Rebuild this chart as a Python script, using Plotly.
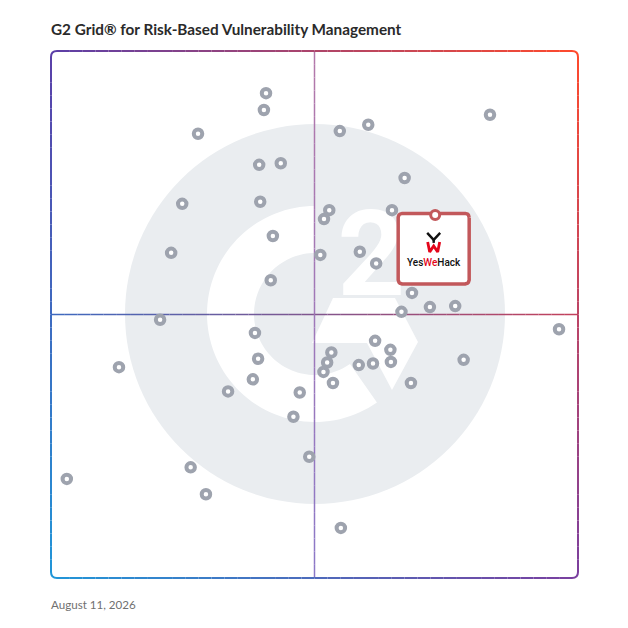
import numpy as np
import plotly.graph_objects as go

# G2 Grid for Risk-Based Vulnerability Management
# x = satisfaction, y = market presence (0-100)
satisfaction = [40.8, 40.4, 27.9, 54.8, 60.2, 83.3, 39.5, 43.6, 67.1, 24.9,
                39.7, 52.8, 51.8, 64.7, 42.1, 22.8, 51.1, 58.6, 61.7, 41.7,
                68.5, 71.9, 76.7, 66.5, 20.7, 96.4, 38.7, 61.5, 53.2, 64.4,
                39.3, 52.4, 51.7, 58.4, 61.1, 64.5, 78.3, 12.9, 38.3, 53.5,
                68.3, 33.6, 47.2, 46.0, 49.0, 26.5, 29.4, 3.0, 55.0]
market_presence = [92.0, 88.8, 84.3, 84.8, 86.0, 87.9, 78.4, 78.7, 75.9, 71.0,
                   71.4, 69.8, 68.1, 69.8, 64.9, 61.7, 61.3, 61.9, 59.7, 56.5,
                   54.1, 51.4, 51.6, 50.5, 49.0, 47.2, 46.5, 45.0, 42.8, 43.3,
                   41.6, 40.9, 39.1, 40.4, 40.7, 41.0, 41.4, 40.0, 37.7, 37.0,
                   37.0, 35.4, 35.2, 30.6, 23.0, 21.0, 15.9, 18.8, 9.5]

highlight_name = "YesWeHack"
highlight_x = 72.9
highlight_y = 68.9

title_text = "G2 Grid® for Risk-Based Vulnerability Management"
date_text = "August 11, 2026"

W = 628
PLOT = 527  # plot area in px
L, T = 51, 51   # where the plot area should land on the page
PAGE_PAD = 8    # default body margin of the html page
U = PLOT / 100.0  # px per data unit

# corner colours of the grid border (bilinear gradient)
TL = np.array([91, 63, 168])
TR = np.array([255, 74, 44])
BL = np.array([33, 150, 216])
BR = np.array([122, 63, 159])


def grad(u, v):
    top = TL * (1 - u) + TR * u
    bot = BL * (1 - u) + BR * u
    c = bot * (1 - v) + top * v
    return "rgb(%d,%d,%d)" % tuple(int(round(k)) for k in c)


def pp(x, y):
    # pixel -> paper
    return (x - L) / PLOT, (T + PLOT - y) / PLOT


shapes = []

# background G2 logo
cx, cy = pp(315, 314)
R = 190 / PLOT
shapes.append(dict(type="circle", xref="paper", yref="paper", layer="below",
                   x0=cx - R, x1=cx + R, y0=cy - R, y1=cy + R,
                   fillcolor="#eaedf0", line=dict(width=0)))

r_out, r_in = 108 / PLOT, 61 / PLOT
ang = np.radians(np.linspace(90, 305, 80))
pts = [(cx + r_out * np.cos(a), cy + r_out * np.sin(a)) for a in ang]
pts += [(cx + r_in * np.cos(a), cy + r_in * np.sin(a)) for a in ang[::-1]]
path = "M " + " L ".join("%.5f,%.5f" % p for p in pts) + " Z"
shapes.append(dict(type="path", xref="paper", yref="paper", layer="below",
                   path=path, fillcolor="white", line=dict(width=0)))

chev = [pp(333, 298), pp(395, 298), pp(418, 342), pp(392, 390), pp(367, 343), pp(312, 343)]
path = "M " + " L ".join("%.5f,%.5f" % p for p in chev) + " Z"
shapes.append(dict(type="path", xref="paper", yref="paper", layer="below",
                   path=path, fillcolor="white", line=dict(width=0)))

# quadrant lines
n = 40
for i in range(n):
    a, b = i / n, (i + 1) / n
    m = (a + b) / 2
    hc = np.array([62, 106, 192]) * (1 - m) + np.array([196, 66, 92]) * m
    shapes.append(dict(type="line", xref="paper", yref="paper", layer="below",
                       x0=a, x1=b, y0=0.5, y1=0.5,
                       line=dict(color="rgb(%d,%d,%d)" % tuple(hc.astype(int)), width=1.5)))
    vc = np.array([180, 120, 170]) * (1 - m) + np.array([140, 120, 200]) * m
    shapes.append(dict(type="line", xref="paper", yref="paper", layer="below",
                       x0=0.5, x1=0.5, y0=1 - a, y1=1 - b,
                       line=dict(color="rgb(%d,%d,%d)" % tuple(vc.astype(int)), width=1.5)))

# border with gradient and rounded corners
rc = 6 / PLOT
bw = 2
for i in range(n):
    a = rc + (1 - 2 * rc) * i / n
    b = rc + (1 - 2 * rc) * (i + 1) / n
    m = (a + b) / 2
    for (x0, y0, x1, y1, u, v) in [(a, 1, b, 1, m, 1), (a, 0, b, 0, m, 0),
                                   (0, a, 0, b, 0, m), (1, a, 1, b, 1, m)]:
        shapes.append(dict(type="line", xref="paper", yref="paper", layer="below",
                           x0=x0, y0=y0, x1=x1, y1=y1,
                           line=dict(color=grad(u, v), width=bw)))
for (sx, sy, qx, qy, ex, ey, u, v) in [(0, 1 - rc, 0, 1, rc, 1, 0, 1),
                                       (1 - rc, 1, 1, 1, 1, 1 - rc, 1, 1),
                                       (1, rc, 1, 0, 1 - rc, 0, 1, 0),
                                       (rc, 0, 0, 0, 0, rc, 0, 0)]:
    shapes.append(dict(type="path", xref="paper", yref="paper", layer="below",
                       path="M %.5f,%.5f Q %.5f,%.5f %.5f,%.5f" % (sx, sy, qx, qy, ex, ey),
                       line=dict(color=grad(u, v), width=bw)))

fig = go.Figure()

# the "2" of the logo, drawn under the markers
fig.add_trace(go.Scatter(x=[60.8], y=[59.3], mode="text", text=["2"],
                         textfont=dict(family="Roboto", size=118, color="white", weight="bold"),
                         hoverinfo="skip", showlegend=False))

fig.add_trace(go.Scatter(x=satisfaction, y=market_presence, mode="markers",
                         marker=dict(size=8.5, color="white",
                                     line=dict(color="#9ea3ae", width=4)),
                         cliponaxis=False, hoverinfo="skip", showlegend=False))


# highlight box around the product
def rounded_box(x0, x1, y0, y1, r):
    xs, ys = [], []
    for (ccx, ccy, a0) in [(x1 - r, y1 - r, 0), (x0 + r, y1 - r, 90),
                           (x0 + r, y0 + r, 180), (x1 - r, y0 + r, 270)]:
        for a in np.radians(np.linspace(a0, a0 + 90, 6)):
            xs.append(ccx + r * np.cos(a))
            ys.append(ccy + r * np.sin(a))
    xs.append(xs[0])
    ys.append(ys[0])
    return xs, ys


bx, by = rounded_box(highlight_x - 37 / U, highlight_x + 34 / U,
                     highlight_y - 69 / U, highlight_y + 1.5 / U, 4 / U)
fig.add_trace(go.Scatter(x=bx, y=by, mode="lines", fill="toself", fillcolor="white",
                         line=dict(color="#c2585b", width=3.5),
                         hoverinfo="skip", showlegend=False))


# YesWeHack mark
def off(dx, dy):
    return highlight_x + dx / U, highlight_y - dy / U


vx, vy = zip(*[off(-8, 18), off(-1.5, 25), off(5, 18)])
fig.add_trace(go.Scatter(x=vx, y=vy, mode="lines", line=dict(color="#111111", width=2.4),
                         hoverinfo="skip", showlegend=False))
vx, vy = zip(*[off(-1.5, 25), off(-1.5, 28)])
fig.add_trace(go.Scatter(x=vx, y=vy, mode="lines", line=dict(color="#111111", width=2.4),
                         hoverinfo="skip", showlegend=False))
wx, wy = zip(*[off(-7.5, 27), off(-5.5, 37), off(-1.5, 31), off(2.5, 37), off(4.5, 27)])
fig.add_trace(go.Scatter(x=wx, y=wy, mode="lines", line=dict(color="#e3061b", width=2.8),
                         hoverinfo="skip", showlegend=False))

fig.add_trace(go.Scatter(x=[highlight_x], y=[highlight_y], mode="markers",
                         marker=dict(size=9, color="white",
                                     line=dict(color="#c2585b", width=3)),
                         hovertext=[highlight_name], hoverinfo="text", showlegend=False))

tx, ty = off(-1, 47.5)
annotations = [
    dict(x=tx, y=ty, xref="x", yref="y", showarrow=False,
         text="Yes<span style='color:#e3061b'>We</span>Hack",
         font=dict(family="Roboto", size=10, color="#111111", weight=500)),
    dict(x=pp(48.5, 0)[0], y=pp(0, 29)[1], xref="paper", yref="paper",
         xanchor="left", yanchor="middle", showarrow=False, text=title_text,
         font=dict(family="Lato", size=15.3, color="#2a2a2a", weight="bold")),
    dict(x=pp(48.5, 0)[0], y=pp(0, 604)[1], xref="paper", yref="paper",
         xanchor="left", yanchor="middle", showarrow=False, text=date_text,
         font=dict(family="Lato", size=11.6, color="#707070")),
]

ml, mt = L - PAGE_PAD, T - PAGE_PAD
fig.update_layout(
    width=W, height=W,
    margin=dict(l=ml, r=W - ml - PLOT, t=mt, b=W - mt - PLOT),
    paper_bgcolor="white", plot_bgcolor="white",
    xaxis=dict(range=[0, 100], visible=False, fixedrange=True),
    yaxis=dict(range=[0, 100], visible=False, fixedrange=True),
    shapes=shapes, annotations=annotations,
    showlegend=False,
)

fig.write_html("out.html")
